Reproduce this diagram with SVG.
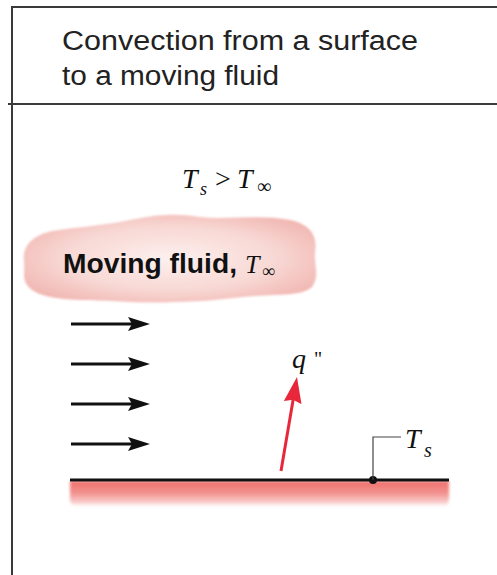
<svg xmlns="http://www.w3.org/2000/svg" width="497" height="575" viewBox="0 0 497 575">
<style>
.frame{stroke:#3a3a3a;stroke-width:2;fill:none}
.title{font-family:"Liberation Sans",Arial,sans-serif;font-size:27px;fill:#222}
.math{font-family:"Liberation Serif","Times New Roman",serif;font-style:italic;fill:#111}
.up{font-family:"Liberation Serif","DejaVu Serif",serif;font-style:normal;fill:#111}
.flow{stroke:#111;stroke-width:3;fill:none}
.heat{stroke:#e8283a;stroke-width:3;fill:none}
.lead{stroke:#444;stroke-width:1.2;fill:none}
</style>
<defs>
<marker id="blackHead" viewBox="0 0 22 14" refX="6" refY="7" markerWidth="22" markerHeight="14" markerUnits="userSpaceOnUse" orient="auto">
<path d="M0,0 L22,7 L0,14 L4,7 z" fill="#111"/>
</marker>
<marker id="redHead" viewBox="0 0 26 18" refX="4" refY="9" markerWidth="26" markerHeight="18" markerUnits="userSpaceOnUse" orient="auto">
<path d="M0,0 L26,9 L0,18 L3,9 z" fill="#e8283a"/>
</marker>
<radialGradient id="cloudFill" cx="0.5" cy="0.5" r="0.6">
<stop offset="0" stop-color="#fdf0ee"/>
<stop offset="0.6" stop-color="#f8d8d4"/>
<stop offset="1" stop-color="#f1b6b1"/>
</radialGradient>
<linearGradient id="surfFill" x1="0" y1="0" x2="0" y2="1">
<stop offset="0" stop-color="#ee6f6c"/>
<stop offset="0.45" stop-color="#f2928f"/>
<stop offset="0.8" stop-color="#f9cfcd"/>
<stop offset="1" stop-color="#ffffff" stop-opacity="0"/>
</linearGradient>
<filter id="soft" x="-5%" y="-20%" width="110%" height="140%">
<feGaussianBlur stdDeviation="1.2"/>
</filter>
<filter id="soft2" x="-5%" y="-30%" width="110%" height="160%">
<feGaussianBlur stdDeviation="1.5"/>
</filter>
</defs>

<g id="frame">
<line class="frame" x1="12" y1="7" x2="497" y2="7"/>
<line class="frame" x1="12" y1="6" x2="12" y2="575"/>
<line class="frame" x1="8" y1="104" x2="497" y2="104"/>
</g>

<g id="title">
<text class="title" x="62" y="50" textLength="356" lengthAdjust="spacingAndGlyphs">Convection from a surface</text>
<text class="title" x="62" y="85" textLength="217" lengthAdjust="spacingAndGlyphs">to a moving fluid</text>
</g>

<g id="condition">
<text class="math" x="182" y="188" font-size="28">T</text>
<text class="math" x="200" y="195" font-size="18">s</text>
<text class="up" x="215" y="188" font-size="28">&gt;</text>
<text class="math" x="237" y="188" font-size="28">T</text>
<text class="up" x="257" y="193" font-size="20">∞</text>
</g>

<g id="fluid">
<path filter="url(#soft)" fill="url(#cloudFill)" d="M24,262 C22,248 30,236 52,231 C75,227 100,226 125,221 C150,216 170,212 200,217 C230,220 260,214 290,220 C310,224 318,236 315,252 C314,264 320,276 312,287 C302,296 280,294 255,296 C230,298 205,302 175,302 C140,304 110,300 80,300 C55,299 35,296 27,285 C22,278 25,270 24,262 Z"/>
<text x="63" y="273" font-family="'Liberation Sans',Arial,sans-serif" font-weight="bold" font-size="27" fill="#111" textLength="174" lengthAdjust="spacingAndGlyphs">Moving fluid,</text>
<text class="math" x="245" y="273" font-size="26">T</text>
<text class="up" x="262" y="277" font-size="18">∞</text>
</g>

<g id="surface">
<path filter="url(#soft2)" fill="url(#surfFill)" d="M70,481 L449,481 L449,498 Q449,508 440,508 L79,508 Q70,508 70,498 Z"/>
<line x1="70" y1="480" x2="449" y2="480" stroke="#111" stroke-width="3"/>
<circle cx="373" cy="480" r="4" fill="#111"/>
</g>

<g id="ts-label">
<text class="math" x="405" y="448" font-size="28">T</text>
<text class="math" x="424" y="457" font-size="20">s</text>
</g>

<g id="q-label">
<text class="math" x="292" y="368" font-size="28">q</text>
<text class="up" x="314" y="366" font-size="20">"</text>
</g>

<g id="connectors">
<line class="flow" x1="71" y1="324" x2="134" y2="324" marker-end="url(#blackHead)"/>
<line class="flow" x1="71" y1="364" x2="134" y2="364" marker-end="url(#blackHead)"/>
<line class="flow" x1="71" y1="404" x2="134" y2="404" marker-end="url(#blackHead)"/>
<line class="flow" x1="71" y1="444" x2="134" y2="444" marker-end="url(#blackHead)"/>
<line class="heat" x1="281" y1="471" x2="293.3" y2="398.7" marker-end="url(#redHead)"/>
<polyline class="lead" points="373,480 373,437 401,437"/>
</g>
</svg>
